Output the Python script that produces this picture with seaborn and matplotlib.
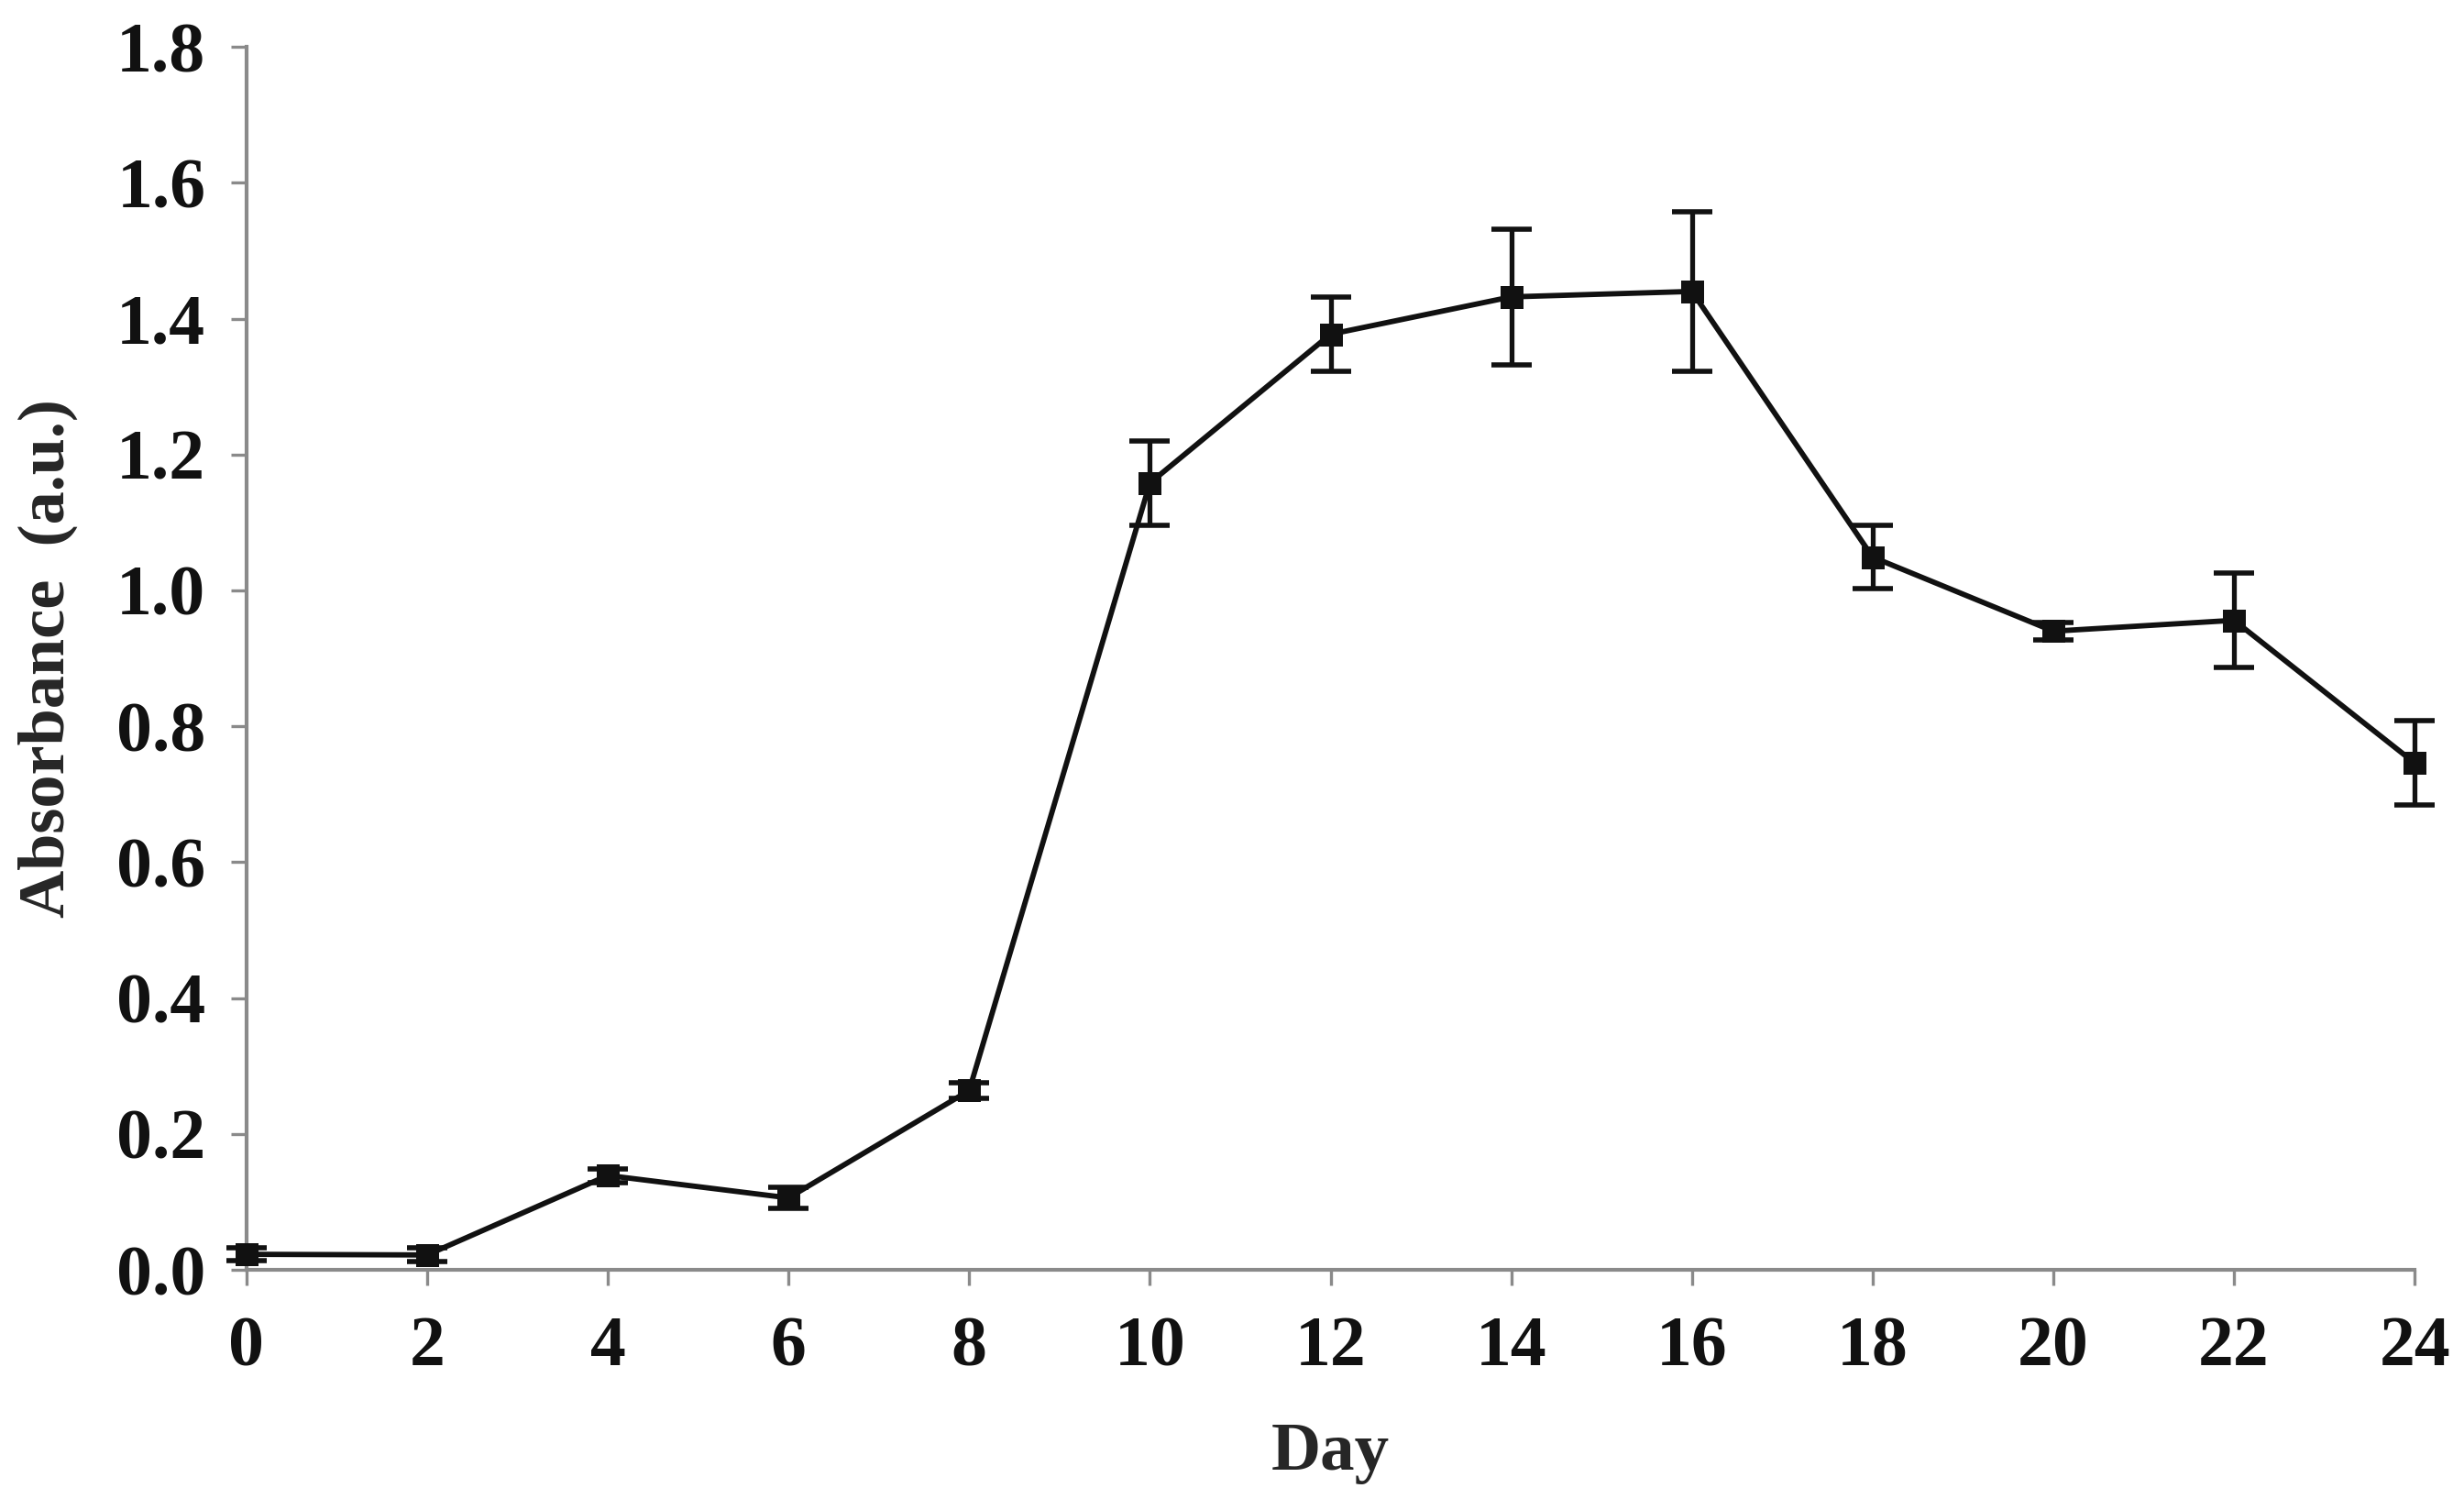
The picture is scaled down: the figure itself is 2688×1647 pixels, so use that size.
import numpy as np
import pandas as pd
import matplotlib
matplotlib.use("Agg")
import matplotlib.pyplot as plt
import seaborn as sns

# Data
days = [0, 2, 4, 6, 8, 10, 12, 14, 16, 18, 20, 22, 24]
absorbance = [0.023, 0.022, 0.139, 0.106, 0.264, 1.158, 1.377, 1.432, 1.440,
              1.049, 0.940, 0.956, 0.746]
error = [0.010, 0.010, 0.010, 0.015, 0.012, 0.062, 0.055, 0.100, 0.117,
         0.047, 0.013, 0.070, 0.062]

x_ticks = list(range(0, 25, 2))
y_ticks = [0.0, 0.2, 0.4, 0.6, 0.8, 1.0, 1.2, 1.4, 1.6, 1.8]

df = pd.DataFrame({"Day": days, "Absorbance": absorbance, "err": error})

sns.set_style("ticks")
plt.rcParams["font.family"] = ["Liberation Serif", "DejaVu Serif"]
plt.rcParams["font.weight"] = "bold"

axis_grey = "#8a8a8a"

fig = plt.figure(figsize=(13.44, 8.235), dpi=200)
ax = fig.add_axes([0.100, 0.159, 0.880, 0.810])

# error bars first, then the line with square markers on top
ax.errorbar(df["Day"], df["Absorbance"], yerr=df["err"], fmt="none",
            ecolor="#111111", elinewidth=1.9, capsize=8, capthick=2.0,
            zorder=2, clip_on=False)
sns.lineplot(data=df, x="Day", y="Absorbance", ax=ax, color="#111111",
             linewidth=2.1, marker="s", markersize=9, markeredgewidth=0,
             zorder=3, clip_on=False)

ax.set_xlim(0, 24)
ax.set_ylim(0, 1.8)
ax.set_xticks(x_ticks)
ax.set_yticks(y_ticks)
ax.set_xticklabels([str(t) for t in x_ticks])
ax.set_yticklabels([f"{t:.1f}" for t in y_ticks])

sns.despine(ax=ax)
for side in ["left", "bottom"]:
    ax.spines[side].set_color(axis_grey)
    ax.spines[side].set_linewidth(1.5)

ax.tick_params(axis="both", direction="out", length=6, width=1.2,
               color=axis_grey, labelsize=28, labelcolor="#111111")
ax.tick_params(axis="x", pad=12)
ax.tick_params(axis="y", pad=10)

ax.set_xlabel("Day", fontsize=27, fontweight="bold", labelpad=16)
ax.set_ylabel("Absorbance  (a.u.)", fontsize=26, fontweight="bold", labelpad=15)

fig.savefig("out.png", dpi=200, facecolor="white")
